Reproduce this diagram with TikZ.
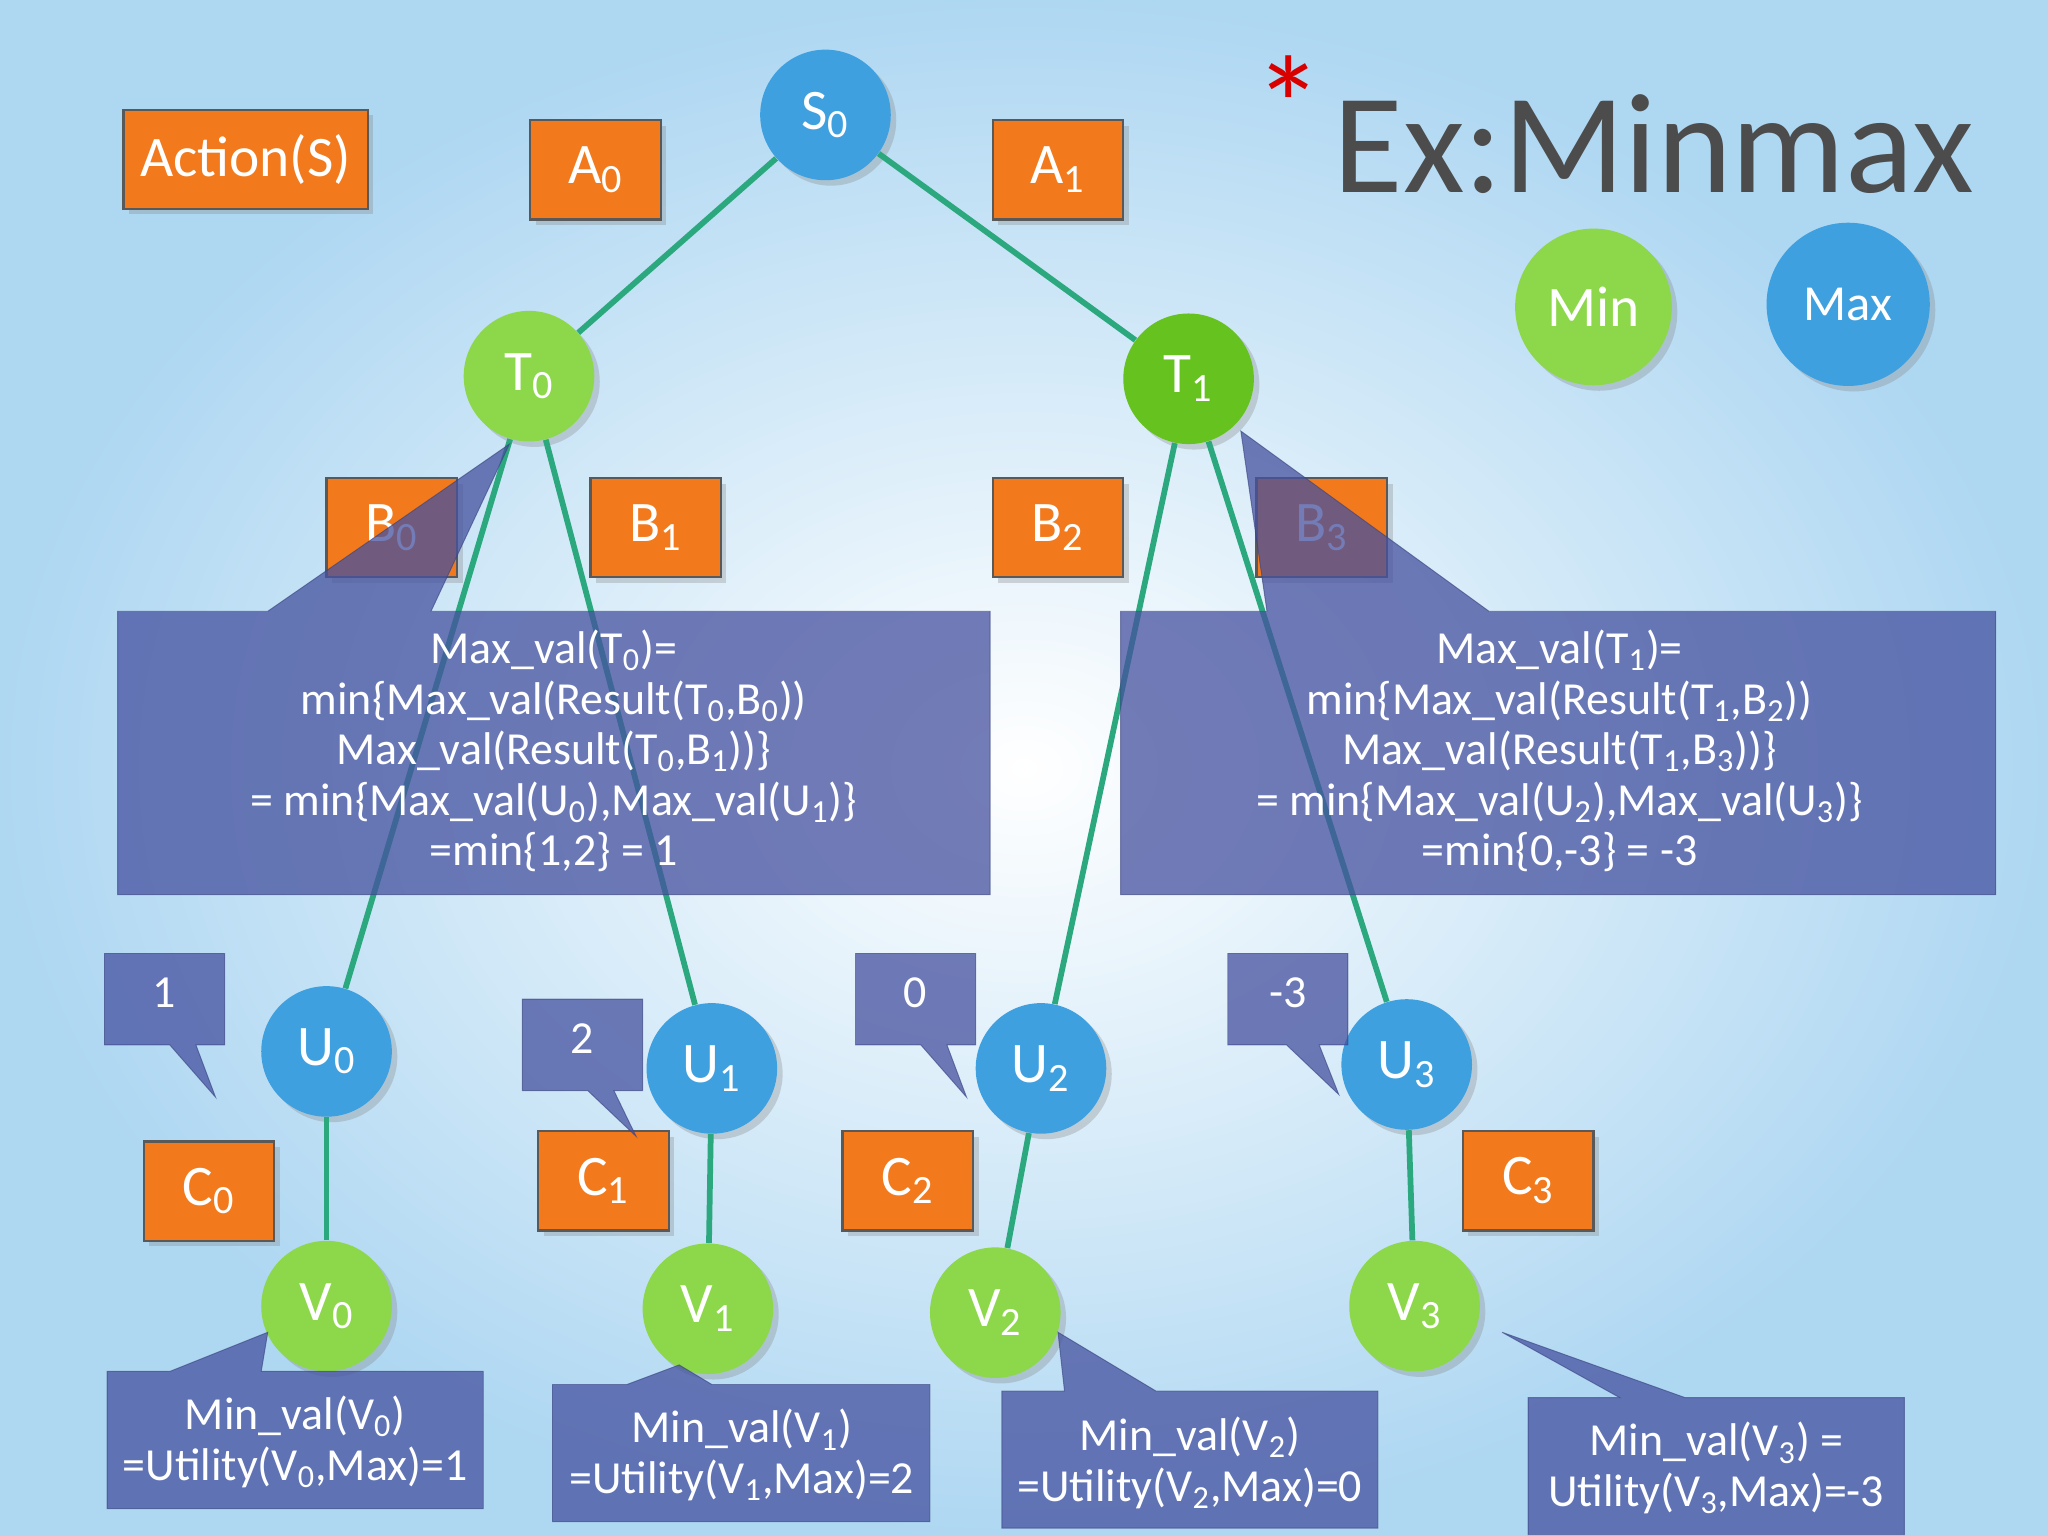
\documentclass[tikz,border=0pt]{standalone}
\usepackage{fontspec}
\setmainfont{Carlito}
\usetikzlibrary{shadows}
\definecolor{bluen}{HTML}{3FA0E0}
\definecolor{greenn}{HTML}{8DD84A}
\definecolor{greend}{HTML}{66C21E}
\definecolor{orng}{HTML}{F27A1C}
\definecolor{edge}{HTML}{2BA87E}
\definecolor{call}{HTML}{45519F}
\newcommand{\sbs}[1]{\textsubscript{#1}}
\begin{document}
\begin{tikzpicture}[x=0.02cm,y=-0.02cm,
  circ/.style={circle,minimum size=2cm,inner sep=0pt,text=white,font=\fontsize{25}{28}\selectfont,drop shadow={opacity=0.3}},
  mx/.style={circ,fill=bluen},
  mn/.style={circ,fill=greenn},
  act/.style={fill=orng,draw=gray!70!black,line width=1pt,text=white,font=\fontsize{25}{28}\selectfont,drop shadow={opacity=0.3}},
  cbox/.style={fill=call,fill opacity=0.75,draw=call!80!black,draw opacity=0.6},
  ctext/.style={text=white,font=\fontsize{20}{22}\selectfont,align=center},
  ed/.style={edge,line width=2.5pt}]
\shade[inner color=white,outer color=bluen!42] (0,0) rectangle (1568,1176);
\useasboundingbox (0,0) rectangle (1568,1176);
% title
\node[text=red!85!black,font=\fontsize{60}{60}\selectfont] (ast) at (987,80) {*};
\node[anchor=west,text=black!70,font=\fontsize{62}{66}\selectfont] (title) at (1015,110) {Ex:Minmax};
% legend
\node[mn,minimum size=2.4cm] (min) at (1220,235) {Min};
\node[mx,minimum size=2.5cm,font=\fontsize{22}{24}\selectfont] (max) at (1415,233) {Max};
% nodes
\node[mx] (S0) at (632,88) {S\sbs{0}};
\node[mn] (T0) at (405,288) {T\sbs{0}};
\node[circ,fill=greend] (T1) at (910,290) {T\sbs{1}};
\node[mx] (U0) at (250,805) {U\sbs{0}};
\node[mx] (U1) at (545,818) {U\sbs{1}};
\node[mx] (U2) at (797,818) {U\sbs{2}};
\node[mx] (U3) at (1077,815) {U\sbs{3}};
\node[mn] (V0) at (250,1000) {V\sbs{0}};
\node[mn] (V1) at (542,1002) {V\sbs{1}};
\node[mn] (V2) at (762,1005) {V\sbs{2}};
\node[mn] (V3) at (1083,1000) {V\sbs{3}};
% actions
\node[act,minimum width=3.74cm,minimum height=1.52cm] (act) at (188,122) {Action(S)};
\foreach \n/\t/\x/\y in {A0/A\sbs{0}/456/130,A1/A\sbs{1}/810/130,B0/B\sbs{0}/300/404,B1/B\sbs{1}/502/404,B2/B\sbs{2}/810/404,B3/B\sbs{3}/1012/404,C0/C\sbs{0}/160/912,C1/C\sbs{1}/462/904,C2/C\sbs{2}/695/904,C3/C\sbs{3}/1170/904}
  \node[act,minimum width=2cm,minimum height=1.52cm] (\n) at (\x,\y) {\t};
% edges
\draw[ed] (S0) -- (T0); \draw[ed] (S0) -- (T1);
\draw[ed] (T0) -- (U0); \draw[ed] (T0) -- (U1);
\draw[ed] (T1) -- (U2); \draw[ed] (T1) -- (U3);
\draw[ed] (U0) -- (V0); \draw[ed] (U1) -- (V1);
\draw[ed] (U2) -- (V2); \draw[ed] (U3) -- (V3);
% big callouts
\draw[cbox] (90,468) -- (205,468) -- (390,340) -- (330,468) -- (758,468) -- (758,685) -- (90,685) -- cycle;
\node[ctext] (c1) at (424,575) {Max\_val(T\sbs{0})=\\min\{Max\_val(Result(T\sbs{0},B\sbs{0}))\\Max\_val(Result(T\sbs{0},B\sbs{1}))\}\\= min\{Max\_val(U\sbs{0}),Max\_val(U\sbs{1})\}\\=min\{1,2\} = 1};
\draw[cbox] (858,468) -- (970,468) -- (950,330) -- (1140,468) -- (1528,468) -- (1528,685) -- (858,685) -- cycle;
\node[ctext] (c2) at (1194,575) {Max\_val(T\sbs{1})=\\min\{Max\_val(Result(T\sbs{1},B\sbs{2}))\\Max\_val(Result(T\sbs{1},B\sbs{3}))\}\\= min\{Max\_val(U\sbs{2}),Max\_val(U\sbs{3})\}\\=min\{0,-3\} = -3};
% small callouts
\draw[cbox] (80,730) -- (172,730) -- (172,800) -- (150,800) -- (165,840) -- (130,800) -- (80,800) -- cycle;
\node[ctext] (n1) at (126,760) {1};
\draw[cbox] (400,765) -- (492,765) -- (492,835) -- (470,835) -- (487,870) -- (450,835) -- (400,835) -- cycle;
\node[ctext] (n2) at (446,795) {2};
\draw[cbox] (655,730) -- (747,730) -- (747,800) -- (725,800) -- (740,840) -- (705,800) -- (655,800) -- cycle;
\node[ctext] (n3) at (701,760) {0};
\draw[cbox] (940,730) -- (1032,730) -- (1032,800) -- (1010,800) -- (1025,838) -- (985,800) -- (940,800) -- cycle;
\node[ctext] (n4) at (986,760) {-3};
% bottom callouts
\draw[cbox] (82,1050) -- (130,1050) -- (205,1020) -- (200,1050) -- (370,1050) -- (370,1155) -- (82,1155) -- cycle;
\node[ctext] (d0) at (226,1104) {Min\_val(V\sbs{0})\\=Utility(V\sbs{0},Max)=1};
\draw[cbox] (423,1060) -- (480,1060) -- (520,1045) -- (545,1060) -- (712,1060) -- (712,1165) -- (423,1165) -- cycle;
\node[ctext] (d1) at (568,1114) {Min\_val(V\sbs{1})\\=Utility(V\sbs{1},Max)=2};
\draw[cbox] (767,1065) -- (815,1065) -- (810,1020) -- (885,1065) -- (1055,1065) -- (1055,1170) -- (767,1170) -- cycle;
\node[ctext] (d2) at (911,1120) {Min\_val(V\sbs{2})\\=Utility(V\sbs{2},Max)=0};
\draw[cbox] (1170,1070) -- (1240,1070) -- (1150,1020) -- (1290,1070) -- (1458,1070) -- (1458,1175) -- (1170,1175) -- cycle;
\node[ctext] (d3) at (1314,1124) {Min\_val(V\sbs{3}) =\\Utility(V\sbs{3},Max)=-3};
\end{tikzpicture}
\end{document}
